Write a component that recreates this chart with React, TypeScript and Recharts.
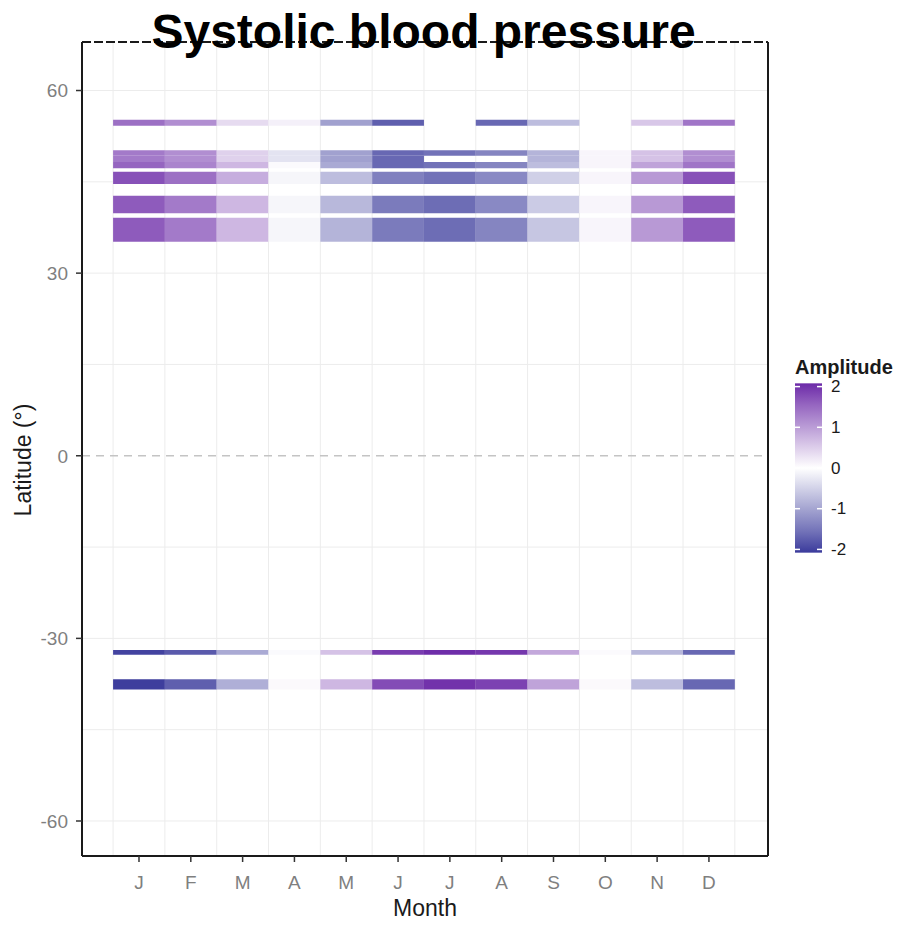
import React from 'react';
import { ComposedChart, XAxis, YAxis, ReferenceArea, ReferenceLine, Line, CartesianGrid } from 'recharts';

// ---------- data ----------
const MONTHS = ['J', 'F', 'M', 'A', 'M', 'J', 'J', 'A', 'S', 'O', 'N', 'D'];
const MONTH_INDEX = [1, 2, 3, 4, 5, 6, 7, 8, 9, 10, 11, 12];
const LAT_TICKS = [-60, -30, 0, 30, 60];
const LAT_GRID = [-60, -45, -30, -15, 15, 30, 45, 60];
const MONTH_GRID = [0.5, 1.5, 2.5, 3.5, 4.5, 5.5, 6.5, 7.5, 8.5, 9.5, 10.5, 11.5, 12.5];
const LEGEND_TICKS = [2, 1, 0, -1, -2];

// latitude bands (south edge, north edge)
const BAND_SOUTH = [54.2, 49.3, 48.25, 47.25, 44.64, 39.83, 35.16, -32.7, -38.4];
const BAND_NORTH = [55.2, 50.2, 49.3, 48.25, 46.66, 42.72, 39.1, -31.9, -36.7];

// amplitude per month, one array per band
const amp55 = [1.4, 1.1, 0.35, 0.15, -1.0, -1.7, null, -1.6, -0.7, null, 0.55, 1.35];
const amp50 = [1.3, 1.1, 0.45, -0.3, -1.0, -1.6, -1.5, -1.3, -0.8, 0.1, 0.6, 1.1];
const amp49 = [1.3, 1.1, 0.45, -0.3, -1.0, -1.6, null, null, -0.8, 0.1, 0.6, 1.1];
const amp48 = [1.5, 1.2, 0.7, 0.05, -0.9, -1.6, -1.5, -1.3, -0.7, 0.1, 0.9, 1.35];
const amp46 = [1.7, 1.4, 0.8, -0.1, -0.7, -1.35, -1.5, -1.25, -0.5, 0.1, 1.0, 1.7];
const amp41 = [1.6, 1.3, 0.7, -0.1, -0.75, -1.4, -1.55, -1.25, -0.55, 0.1, 1.0, 1.6];
const amp37 = [1.6, 1.3, 0.7, -0.1, -0.8, -1.4, -1.55, -1.3, -0.6, 0.1, 1.0, 1.6];
const ampS32 = [-2.0, -1.75, -0.9, -0.05, 0.6, 1.9, 2.05, 1.95, 0.85, 0.05, -0.75, -1.6];
const ampS37 = [-2.05, -1.7, -0.85, 0.06, 0.7, 1.75, 2.0, 1.85, 0.9, 0.06, -0.7, -1.6];
const BAND_VALUES = [amp55, amp50, amp49, amp48, amp46, amp41, amp37, ampS32, ampS37];

// ---------- scales / styles ----------
const X_MIN = -0.1;
const X_MAX = 13.14;
const Y_MIN = -65.75;
const Y_MAX = 67.97;
const LIMIT = 2.08;
const HIGH = [108, 42, 168];
const LOW = [59, 59, 156];
const FONT = '"Liberation Sans", Arial, sans-serif';

function ampColor(v: number): string {
  const t = Math.min(1, Math.abs(v) / LIMIT);
  const target = v >= 0 ? HIGH : LOW;
  const c = target.map((ch) => Math.round(255 + (ch - 255) * t));
  return `rgb(${c[0]},${c[1]},${c[2]})`;
}

const tiles: { key: string; x1: number; x2: number; y1: number; y2: number; v: number }[] = [];
BAND_VALUES.forEach((vals, b) => {
  vals.forEach((v, i) => {
    if (v === null || v === undefined) return;
    tiles.push({
      key: `t-${b}-${i}`,
      x1: MONTH_INDEX[i] - 0.5,
      x2: MONTH_INDEX[i] + 0.5,
      y1: BAND_SOUTH[b],
      y2: BAND_NORTH[b],
      v: v as number,
    });
  });
});

const chartData = MONTH_INDEX.map((m) => ({ x: m, y: 0 }));

// legend geometry
const LEG_X = 795;
const LEG_W = 27;
const LEG_ZERO = 468;
const LEG_UNIT = 40.7;
const legendY = (v: number) => LEG_ZERO - v * LEG_UNIT;
const gradStops = [2.08, 1.5, 1, 0.5, 0, -0.5, -1, -1.5, -2.08];

function applyScale(sc: any, v: number): number | null {
  if (typeof sc === 'function') return sc(v);
  if (sc && typeof sc.map === 'function') return sc.map(v);
  return null;
}

function hGen(props: any): number[] {
  const sc = props && props.yAxis && props.yAxis.scale;
  const o = props.offset;
  return LAT_GRID.map((v) => {
    const r = applyScale(sc, v);
    return r !== null && isFinite(r) ? r : o.top + ((Y_MAX - v) / (Y_MAX - Y_MIN)) * o.height;
  });
}
function vGen(props: any): number[] {
  const sc = props && props.xAxis && props.xAxis.scale;
  const o = props.offset;
  return MONTH_GRID.map((v) => {
    const r = applyScale(sc, v);
    return r !== null && isFinite(r) ? r : o.left + ((v - X_MIN) / (X_MAX - X_MIN)) * o.width;
  });
}

export default function App() {
  return (
    <div style={{ position: 'absolute', left: 0, top: 0, width: 897, height: 925, background: '#fff', fontFamily: FONT }}>
      <ComposedChart
        width={897}
        height={925}
        data={chartData}
        margin={{ top: 42, right: 129, bottom: 0, left: 0 }}
      >
        <CartesianGrid
          stroke="#ececec"
          strokeWidth={1}
          horizontalCoordinatesGenerator={hGen}
          verticalCoordinatesGenerator={vGen}
        />
        <XAxis
          type="number"
          dataKey="x"
          domain={[X_MIN, X_MAX]}
          allowDataOverflow
          ticks={MONTH_INDEX}
          interval={0}
          tickFormatter={(v: number) => MONTHS[v - 1]}
          height={69}
          tickSize={6}
          tickMargin={14}
          axisLine={{ stroke: '#1a1a1a', strokeWidth: 2 }}
          tickLine={{ stroke: '#333', strokeWidth: 1.5 }}
          tick={{ fill: '#7f7f7f', fontSize: 19, fontFamily: FONT }}
          label={{ value: 'Month', position: 'insideBottom', offset: 9, fill: '#1a1a1a', fontSize: 23, fontFamily: FONT }}
        />
        <YAxis
          type="number"
          domain={[Y_MIN, Y_MAX]}
          allowDataOverflow
          ticks={LAT_TICKS}
          interval={0}
          width={82}
          tickSize={6}
          tickMargin={8}
          axisLine={{ stroke: '#1a1a1a', strokeWidth: 2 }}
          tickLine={{ stroke: '#333', strokeWidth: 1.5 }}
          tick={{ fill: '#7f7f7f', fontSize: 19, fontFamily: FONT }}
        />
        <ReferenceLine y={0} stroke="#c4c4c4" strokeWidth={1.5} strokeDasharray="8 6" />
        {tiles.map((t) => (
          <ReferenceArea
            key={t.key}
            x1={t.x1}
            x2={t.x2}
            y1={t.y1}
            y2={t.y2}
            fill={ampColor(t.v)}
            fillOpacity={1}
            stroke="none"
          />
        ))}
        <ReferenceLine x={X_MAX} stroke="#1a1a1a" strokeWidth={2} />
        <ReferenceLine y={Y_MAX} stroke="#1a1a1a" strokeWidth={2} strokeDasharray="9 3" />
        <Line dataKey="y" stroke="none" dot={false} activeDot={false} isAnimationActive={false} legendType="none" />
      </ComposedChart>

      <svg
        width={897}
        height={925}
        style={{ position: 'absolute', left: 0, top: 0, pointerEvents: 'none' }}
      >
        <defs>
          <linearGradient id="ampGrad" x1="0" y1="0" x2="0" y2="1">
            {gradStops.map((v, i) => (
              <stop key={i} offset={`${(i / (gradStops.length - 1)) * 100}%`} stopColor={ampColor(v)} />
            ))}
          </linearGradient>
        </defs>
        <text x={423.5} y={48} textAnchor="middle" fontSize={48} fontWeight="bold" fill="#000" fontFamily={FONT}>
          Systolic blood pressure
        </text>
        <text
          x={31}
          y={460}
          transform="rotate(-90 31 460)"
          textAnchor="middle"
          fontSize={23}
          fill="#1a1a1a"
          fontFamily={FONT}
        >
          Latitude (°)
        </text>
        <text x={LEG_X} y={374} fontSize={20} fontWeight="bold" fill="#1a1a1a" fontFamily={FONT}>
          Amplitude
        </text>
        <rect x={LEG_X} y={legendY(LIMIT)} width={LEG_W} height={legendY(-LIMIT) - legendY(LIMIT)} fill="url(#ampGrad)" />
        {LEGEND_TICKS.map((v) => (
          <g key={`lt-${v}`}>
            <line x1={LEG_X} x2={LEG_X + 5} y1={legendY(v)} y2={legendY(v)} stroke="#fff" strokeWidth={1.5} />
            <line x1={LEG_X + LEG_W - 5} x2={LEG_X + LEG_W} y1={legendY(v)} y2={legendY(v)} stroke="#fff" strokeWidth={1.5} />
            <text x={LEG_X + LEG_W + 9} y={legendY(v)} dominantBaseline="central" fontSize={17} fill="#1a1a1a" fontFamily={FONT}>
              {v}
            </text>
          </g>
        ))}
      </svg>
    </div>
  );
}
